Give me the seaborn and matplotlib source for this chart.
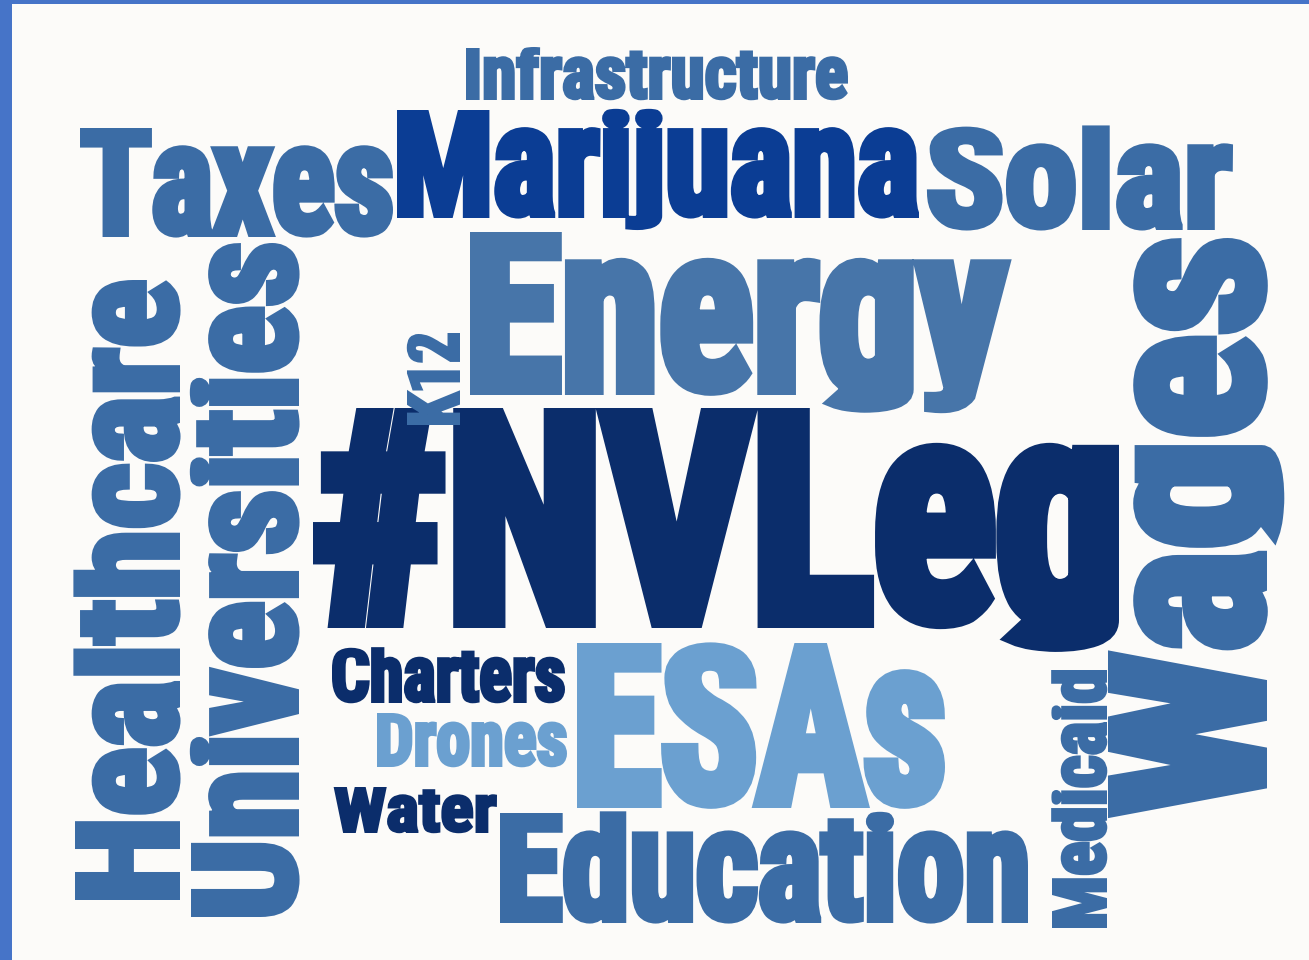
import matplotlib
matplotlib.use("Agg")
import numpy as np
import matplotlib.pyplot as plt
import seaborn as sns
from matplotlib import font_manager as fm
from matplotlib.path import Path
from matplotlib.textpath import TextPath
from matplotlib.patches import PathPatch, Rectangle
from matplotlib.transforms import Affine2D

# word cloud data: topic and how often it came up
words = ["Infrastructure", "Taxes", "Marijuana", "Solar", "Energy", "#NVLeg",
         "Wages", "Healthcare", "Universities", "K12", "Charters", "Drones",
         "Water", "ESAs", "Education", "Medicaid"]
mentions = [52, 109, 108, 103, 163, 220, 159, 105, 108, 53, 55, 54, 46, 165, 110, 55]

# layout of the cloud: left, top, length along the word (px), rotated 90deg
lefts = [466, 80, 397, 927, 470, 313, 1108, 75, 191, 407, 332, 377, 334, 577, 500, 1052]
tops = [48, 128, 110, 127, 232, 408, 238, 280, 243, 333, 648, 713, 787, 643, 813, 670]
lengths = [382, 313, 522, 306, 540, 806, 579, 620, 674, 92, 233, 190, 163, 368, 528, 258]
rotated = [False, False, False, False, False, False, True, True, True, True,
           False, False, False, False, False, True]
tone = [2, 2, 1, 2, 3, 0, 2, 2, 2, 2, 0, 4, 0, 4, 2, 2]

palette = sns.color_palette(["#0b2d6b", "#0b3d94", "#3b6ca5", "#4775a9", "#6ba0d0"])
W, H = 1309, 960


def weight_of(f):
    if isinstance(f.weight, int):
        return f.weight
    return fm.weight_dict.get(f.weight, 400)


def pick_font():
    fonts = fm.fontManager.ttflist
    tests = [
        lambda f: f.name == "Liberation Sans Narrow" and weight_of(f) >= 700 and f.style == "normal",
        lambda f: f.name == "Roboto Condensed" and weight_of(f) >= 700 and f.style == "normal",
        lambda f: "DejaVuSansCondensed-Bold." in f.fname,
        lambda f: f.name in ("Roboto", "Lato", "Inter", "Open Sans") and weight_of(f) >= 800 and f.style == "normal",
        lambda f: f.name == "DejaVu Sans" and weight_of(f) >= 700 and f.style == "normal",
    ]
    for t in tests:
        hits = [f for f in fonts if t(f)]
        if hits:
            best = sorted(hits, key=lambda f: -weight_of(f))[0]
            return fm.FontProperties(fname=best.fname)
    return fm.FontProperties(family="DejaVu Sans", weight="bold")


sns.set_theme(style="white")
prop = pick_font()
cap_h = TextPath((0, 0), "H", prop=prop, size=100).get_extents().y1
x_h = TextPath((0, 0), "x", prop=prop, size=100).get_extents().y1


def poster_shape(y):
    # tall x-height and short descenders, like a compressed poster face
    xh_new = 0.82 * cap_h
    return np.where(
        y < 0, y * 0.4,
        np.where(y < x_h, y * xh_new / x_h,
                 np.where(y < cap_h, xh_new + (y - x_h) * (cap_h - xh_new) / (cap_h - x_h),
                          cap_h + (y - cap_h) * 0.3)))


fig = plt.figure(figsize=(W / 100, H / 100), dpi=100)
fig.patch.set_facecolor("#4674c8")
ax = fig.add_axes([0, 0, 1, 1])
ax.set_xlim(0, W)
ax.set_ylim(H, 0)
ax.axis("off")
ax.add_patch(Rectangle((12, 4), W - 12, H - 4, facecolor="#fcfbf9", edgecolor="none"))

bold = 0.07
for i, word in enumerate(words):
    tp = TextPath((0, 0), word, prop=prop, size=100)
    verts = np.array(tp.vertices, dtype=float)
    verts[:, 1] = poster_shape(verts[:, 1])
    tp = Path(verts, tp.codes)
    ext = tp.get_extents()
    px0, px1 = ext.x0, ext.x1
    across = mentions[i]
    left, top, length = lefts[i], tops[i], lengths[i]
    h = bold * across / 2
    s_along = (length - 2 * h) / (px1 - px0)
    s_across = (across - 2 * h) / cap_h
    if rotated[i]:
        tr = Affine2D.from_values(0, -s_along, -s_across, 0,
                                  left + across - h, top + length - h + px0 * s_along)
    else:
        tr = Affine2D.from_values(s_along, 0, 0, -s_across,
                                  left + h - px0 * s_along, top + across - h)
    path = tr.transform_path(tp)
    col = palette[tone[i]]
    ax.add_patch(PathPatch(path, facecolor=col, edgecolor=col,
                           linewidth=2 * h * 72 / 100, joinstyle="miter"))

fig.savefig("out.png", dpi=100, facecolor=fig.get_facecolor())
